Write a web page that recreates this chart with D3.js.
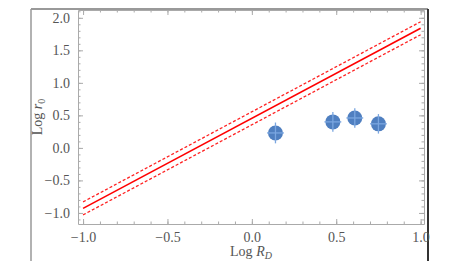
<!DOCTYPE html>
<html lang="en">
<head>
<meta charset="utf-8">
<title>Log r0 vs Log RD</title>
<script src="https://cdnjs.cloudflare.com/ajax/libs/d3/7.8.5/d3.min.js"></script>
<style>
  body { margin: 0; background: #fff; }
  svg { display: block; font-family: 'Liberation Serif', 'DejaVu Serif', serif; }
  .tick text { fill: #555; font-size: 14px; font-family: 'Liberation Serif', 'DejaVu Serif', serif; }
</style>
</head>
<body>
<svg></svg>
<script>
// points (Log R_D, Log r0) with errors
var logRD  = [0.14, 0.48, 0.61, 0.75];
var logR0  = [0.23, 0.40, 0.46, 0.37];
var errX   = [0.05, 0.05, 0.05, 0.05];
var errY   = [0.16, 0.15, 0.15, 0.15];

// the fitted line and its band, given at its two ends
var lineX     = [-1.0, 1.0];
var lineMid   = [-0.93, 1.84];
var lineUpper = [-0.83, 1.94];
var lineLower = [-1.03, 1.74];

var xTicks = [-1.0, -0.5, 0.0, 0.5, 1.0];
var yTicks = [-1.0, -0.5, 0.0, 0.5, 1.0, 1.5, 2.0];

var width = 463, height = 261;
var padL = 78, padR = 424, padT = 10, padB = 224;

var svg = d3.select("svg").attr("width", width).attr("height", height);

var x = d3.scaleLinear().domain([-1.03, 1.02]).range([padL, padR]);
var y = d3.scaleLinear().domain([-1.17, 2.12]).range([padB, padT]);

// outer border of the cropped figure
svg.append("line").attr("x1", 31).attr("x2", 31).attr("y1", 9).attr("y2", height)
  .attr("stroke", "#999").attr("stroke-width", 1.5);
svg.append("line").attr("x1", 31).attr("x2", 428).attr("y1", 9).attr("y2", 9)
  .attr("stroke", "#999").attr("stroke-width", 2);
svg.append("line").attr("x1", 428).attr("x2", 428).attr("y1", 9).attr("y2", height)
  .attr("stroke", "#333").attr("stroke-width", 2);

var fmt = d3.format(".1f");
var minorX = d3.range(-1.0, 1.001, 0.1);
var minorY = d3.range(-1.1, 2.101, 0.1);

function frameAxis(axisFn, scale, majors, minors, transform, showLabels) {
  var g = svg.append("g").attr("transform", transform);
  g.call(axisFn(scale).tickValues(minors).tickSize(-2.5).tickFormat(""));
  g.select(".domain").remove();
  var g2 = svg.append("g").attr("transform", transform);
  g2.call(axisFn(scale).tickValues(majors).tickSize(-5).tickSizeOuter(0)
      .tickPadding(8).tickFormat(showLabels ? (d => fmt(d).replace("-", "\u2212")) : ""));
  g2.attr("font-family", null).attr("font-size", null);
  g2.select(".domain").attr("stroke", "#aaa");
  g.selectAll("line").attr("stroke", "#aaa");
  g2.selectAll("line").attr("stroke", "#aaa");
  return g2;
}

frameAxis(d3.axisBottom, x, xTicks, minorX, "translate(0," + padB + ")", true);
frameAxis(d3.axisTop, x, xTicks, minorX, "translate(0," + padT + ")", false);
frameAxis(d3.axisLeft, y, yTicks, minorY, "translate(" + padL + ",0)", true);
frameAxis(d3.axisRight, y, yTicks, minorY, "translate(" + padR + ",0)", false);

// fit lines
var lineGen = d3.line().x(d => x(d[0])).y(d => y(d[1]));
svg.append("path").datum(d3.zip(lineX, lineUpper)).attr("d", lineGen)
  .attr("fill", "none").attr("stroke", "#f22").attr("stroke-width", 1.3).attr("stroke-dasharray", "3,2");
svg.append("path").datum(d3.zip(lineX, lineLower)).attr("d", lineGen)
  .attr("fill", "none").attr("stroke", "#f22").attr("stroke-width", 1.3).attr("stroke-dasharray", "3,2");
svg.append("path").datum(d3.zip(lineX, lineMid)).attr("d", lineGen)
  .attr("fill", "none").attr("stroke", "#f00").attr("stroke-width", 1.6);

// points with error bars
var pts = logRD.map((d, i) => ({x: d, y: logR0[i], ex: errX[i], ey: errY[i]}));
var pg = svg.append("g").selectAll("g").data(pts).enter().append("g");
pg.append("circle")
  .attr("cx", d => x(d.x)).attr("cy", d => y(d.y)).attr("r", 7.5)
  .attr("fill", "#4f7fc0");
pg.append("line")
  .attr("x1", d => x(d.x - d.ex)).attr("x2", d => x(d.x + d.ex))
  .attr("y1", d => y(d.y)).attr("y2", d => y(d.y))
  .attr("stroke", "#7aa6e0").attr("stroke-width", 1.3);
pg.append("line")
  .attr("x1", d => x(d.x)).attr("x2", d => x(d.x))
  .attr("y1", d => y(d.y - d.ey)).attr("y2", d => y(d.y + d.ey))
  .attr("stroke", "#7aa6e0").attr("stroke-width", 1.3);

// axis labels
var xl = svg.append("text").attr("x", (padL + padR) / 2).attr("y", 256)
  .attr("text-anchor", "middle").attr("fill", "#555").style("font-size", "14px");
xl.append("tspan").text("Log ");
xl.append("tspan").style("font-style", "italic").text("R");
xl.append("tspan").style("font-style", "italic").style("font-size", "10px").attr("dy", 3).text("D");

var yl = svg.append("text")
  .attr("transform", "translate(42," + ((padT + padB) / 2) + ") rotate(-90)")
  .attr("text-anchor", "middle").attr("fill", "#555").style("font-size", "14px");
yl.append("tspan").text("Log ");
yl.append("tspan").style("font-style", "italic").text("r");
yl.append("tspan").style("font-size", "10px").attr("dy", 3).text("0");
</script>
</body>
</html>
